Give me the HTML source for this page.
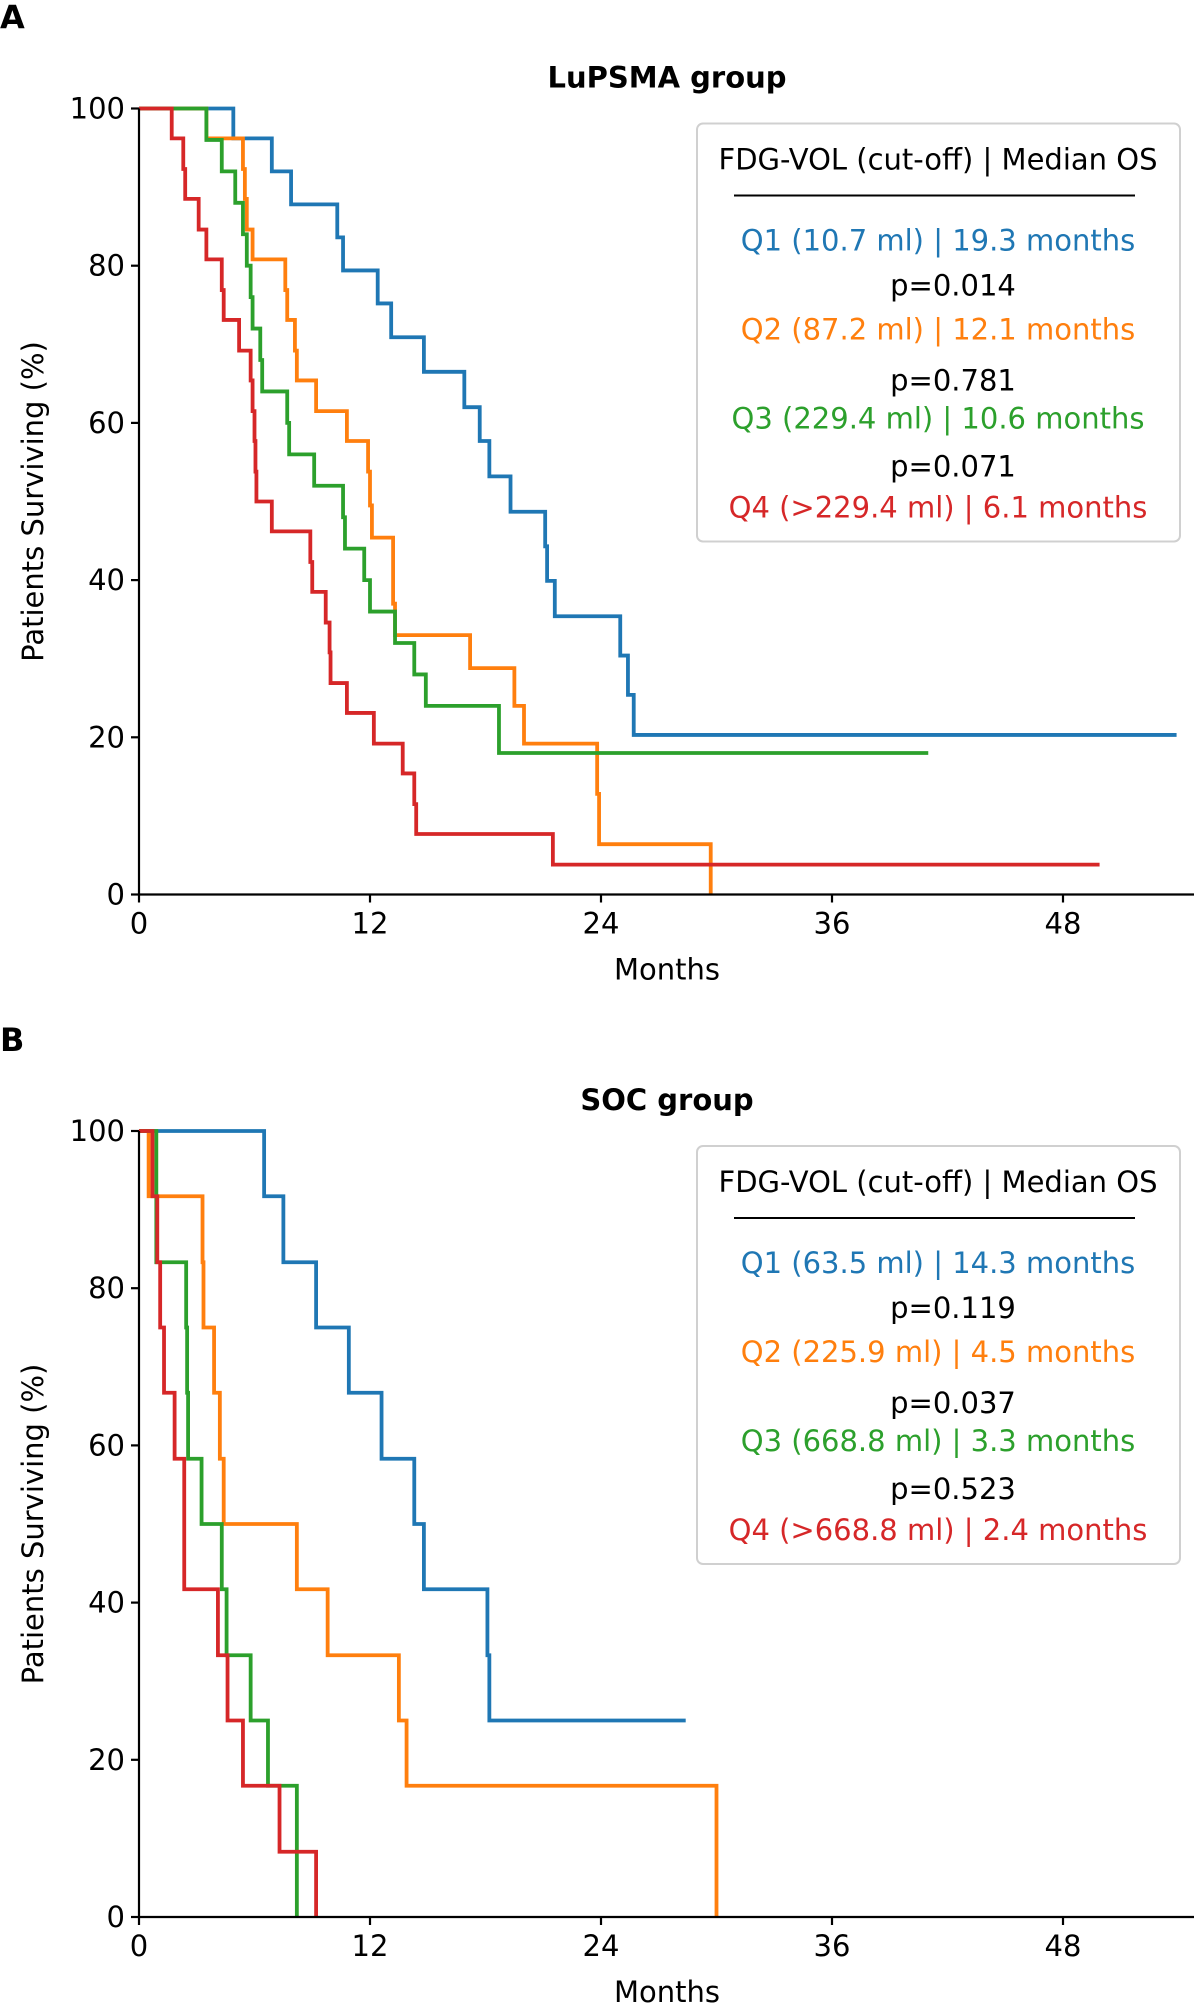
<!DOCTYPE html>
<html><head><meta charset="utf-8">
<style>
html,body{margin:0;padding:0;background:#fff;}
svg{display:block;font-family:"DejaVu Sans","Liberation Sans",sans-serif;}
</style></head>
<body>
<svg id="fig" width="1200" height="2005" viewBox="0 0 1200 2005" xmlns="http://www.w3.org/2000/svg"></svg>
<script>
const xTicks = [0, 12, 24, 36, 48];
const yTicks = [0, 20, 40, 60, 80, 100];
const seriesNames = ["Q1", "Q2", "Q3", "Q4"];
const colors = ["#1f77b4", "#ff7f0e", "#2ca02c", "#d62728"];

// Panel A (LuPSMA): step times (months) and survival (%) after each step
const aQ1Times = [4.9, 6.9, 7.9, 10.3, 10.6, 12.4, 13.1, 14.8, 16.9, 17.7, 18.2, 19.3, 21.1, 21.2, 21.6, 25.0, 25.4, 25.7, 53.9];
const aQ1Surv  = [96.2, 92, 87.8, 83.6, 79.4, 75.2, 70.9, 66.5, 62, 57.7, 53.2, 48.7, 44.3, 39.9, 35.4, 30.4, 25.4, 20.3, 20.3];
const aQ2Times = [3.5, 5.4, 5.5, 5.6, 5.9, 7.6, 7.7, 8.1, 8.2, 9.2, 10.8, 11.9, 12.0, 12.1, 13.2, 13.3, 17.2, 19.5, 20.0, 23.8, 23.9, 29.7, 29.7];
const aQ2Surv  = [96.2, 92.3, 88.5, 84.6, 80.8, 76.9, 73.1, 69.2, 65.4, 61.5, 57.7, 53.8, 49.5, 45.4, 37, 33, 28.8, 24, 19.2, 12.8, 6.4, 0, 0];
const aQ3Times = [3.5, 4.3, 5.0, 5.4, 5.6, 5.8, 5.9, 6.3, 6.4, 7.7, 7.8, 9.1, 10.6, 10.7, 11.7, 12.0, 13.3, 14.3, 14.9, 18.7, 41.0];
const aQ3Surv  = [96, 92, 88, 84, 80, 76, 72, 68, 64, 60, 56, 52, 48, 44, 40, 36, 32, 28, 24, 18, 18];
const aQ4Times = [1.7, 2.3, 2.4, 3.1, 3.5, 4.3, 4.4, 5.2, 5.8, 5.9, 6.0, 6.05, 6.1, 6.9, 8.9, 9.0, 9.7, 9.9, 9.95, 10.8, 12.2, 13.7, 14.3, 14.4, 21.5, 49.9];
const aQ4Surv  = [96.2, 92.3, 88.5, 84.6, 80.8, 76.9, 73.1, 69.2, 65.4, 61.5, 57.7, 53.8, 50, 46.2, 42.3, 38.5, 34.6, 30.8, 26.9, 23.1, 19.2, 15.4, 11.5, 7.7, 3.8, 3.8];

// Panel B (SOC)
const bQ1Times = [6.5, 7.5, 9.2, 10.9, 12.6, 14.3, 14.8, 18.1, 18.2, 28.4];
const bQ1Surv  = [91.7, 83.3, 75, 66.7, 58.3, 50, 41.7, 33.3, 25, 25];
const bQ2Times = [0.5, 3.3, 3.35, 3.9, 4.2, 4.4, 8.2, 9.8, 13.5, 13.9, 30.0, 30.0];
const bQ2Surv  = [91.7, 83.3, 75, 66.7, 58.3, 50, 41.7, 33.3, 25, 16.7, 0, 0];
const bQ3Times = [0.9, 2.45, 2.5, 2.55, 3.25, 4.3, 4.55, 5.8, 6.7, 8.2, 8.2];
const bQ3Surv  = [83.3, 75, 66.7, 58.3, 50, 41.7, 33.3, 25, 16.7, 0, 0];
const bQ4Times = [0.7, 0.95, 1.1, 1.3, 1.85, 2.35, 4.1, 4.6, 5.4, 7.3, 9.2, 9.2];
const bQ4Surv  = [91.7, 83.3, 75, 66.7, 58.3, 41.7, 33.3, 25, 16.7, 8.3, 0, 0];

const legendA = ["Q1 (10.7 ml) | 19.3 months", "Q2 (87.2 ml) | 12.1 months", "Q3 (229.4 ml) | 10.6 months", "Q4 (>229.4 ml) | 6.1 months"];
const pvalsA = ["p=0.014", "p=0.781", "p=0.071"];
const legendB = ["Q1 (63.5 ml) | 14.3 months", "Q2 (225.9 ml) | 4.5 months", "Q3 (668.8 ml) | 3.3 months", "Q4 (>668.8 ml) | 2.4 months"];
const pvalsB = ["p=0.119", "p=0.037", "p=0.523"];

const NS = "http://www.w3.org/2000/svg";
const svg = document.getElementById("fig");
function mk(tag, attrs, parent, text) {
  const e = document.createElementNS(NS, tag);
  for (const k in attrs) e.setAttribute(k, attrs[k]);
  if (text !== undefined) e.textContent = text;
  (parent || svg).appendChild(e);
  return e;
}

function panel(cfg) {
  const g = mk("g", {});
  
  
  const x0 = 139, pxPerMonth = 19.25, xEnd = 1194;
  const yTop = cfg.yTop, yBot = cfg.yTop + 786;
  const xs = m => x0 + m * pxPerMonth;
  const ys = s => yBot - s / 100 * (yBot - yTop);

  const lab = mk("text", {x: 0, y: cfg.yTop - 80, "font-size": 32, "font-weight": "bold"}, g, cfg.letter);
  
  
  const title = mk("text", {x: 667, y: cfg.yTop - 21, "font-size": 29, "font-weight": "bold", "text-anchor": "middle"}, g, cfg.title);
  
  

  cfg.series.forEach((s, i) => {
    let d = "M" + xs(0) + "," + ys(100);
    let prev = 100;
    for (let k = 0; k < s.t.length; k++) {
      d += " L" + xs(s.t[k]) + "," + ys(prev) + " L" + xs(s.t[k]) + "," + ys(s.s[k]);
      prev = s.s[k];
    }
    const p = mk("path", {d: d, fill: "none", stroke: colors[i], "stroke-width": 3.8, "stroke-linejoin": "miter"}, g);
    
    
  });

  const ax = mk("path", {d: `M${x0},${yTop} L${x0},${yBot} L${xEnd},${yBot}`, fill: "none", stroke: "#000", "stroke-width": 2.2}, g);
  
  
  xTicks.forEach(t => {
    mk("line", {x1: xs(t), x2: xs(t), y1: yBot, y2: yBot + 8, stroke: "#000", "stroke-width": 2.2}, g);
    const tl = mk("text", {x: xs(t), y: yBot + 39, "font-size": 29, "text-anchor": "middle"}, g, String(t));
    
    
  });
  yTicks.forEach(t => {
    mk("line", {x1: x0 - 8, x2: x0, y1: ys(t), y2: ys(t), stroke: "#000", "stroke-width": 2.2}, g);
    const tl = mk("text", {x: x0 - 14, y: ys(t) + 10, "font-size": 29, "text-anchor": "end"}, g, String(t));
    
    
  });
  const xt = mk("text", {x: 667, y: yBot + 85, "font-size": 29, "text-anchor": "middle"}, g, "Months");
  
  
  const yc = (yTop + yBot) / 2;
  const yt = mk("text", {x: 43, y: yc, "font-size": 29, "text-anchor": "middle", transform: `rotate(-90 43 ${yc})`}, g, "Patients Surviving (%)");
  
  

  const lg = mk("g", {}, g);
  
  
  const ly = cfg.yTop + 15;
  mk("rect", {x: 697, y: ly, width: 483, height: 418, rx: 6, fill: "#fff", "fill-opacity": 0.8, stroke: "#d0d0d0", "stroke-width": 2}, lg);
  const lh = mk("text", {x: 938, y: ly + 46, "font-size": 29, "text-anchor": "middle"}, lg, "FDG-VOL (cut-off) | Median OS");
  
  
  mk("line", {x1: 734, x2: 1135, y1: ly + 72, y2: ly + 72, stroke: "#000", "stroke-width": 2}, lg);
  const rowY = [117, 206, 295, 384];
  const pY = [162, 257, 343];
  cfg.legend.forEach((txt, i) => {
    const t = mk("text", {x: 938, y: ly + rowY[i] + 10, "font-size": 29, "text-anchor": "middle", fill: colors[i]}, lg, txt);
    
    
  });
  cfg.pvals.forEach((txt, i) => {
    const t = mk("text", {x: 953, y: ly + pY[i] + 10, "font-size": 29, "text-anchor": "middle", fill: "#000"}, lg, txt);
    
    
  });
}

panel({name: "panel-a-lupsma", letter: "A", title: "LuPSMA group", yTop: 108.5,
  legend: legendA, pvals: pvalsA,
  series: [{t: aQ1Times, s: aQ1Surv}, {t: aQ2Times, s: aQ2Surv}, {t: aQ3Times, s: aQ3Surv}, {t: aQ4Times, s: aQ4Surv}]});
panel({name: "panel-b-soc", letter: "B", title: "SOC group", yTop: 1131,
  legend: legendB, pvals: pvalsB,
  series: [{t: bQ1Times, s: bQ1Surv}, {t: bQ2Times, s: bQ2Surv}, {t: bQ3Times, s: bQ3Surv}, {t: bQ4Times, s: bQ4Surv}]});
</script>
</body></html>
